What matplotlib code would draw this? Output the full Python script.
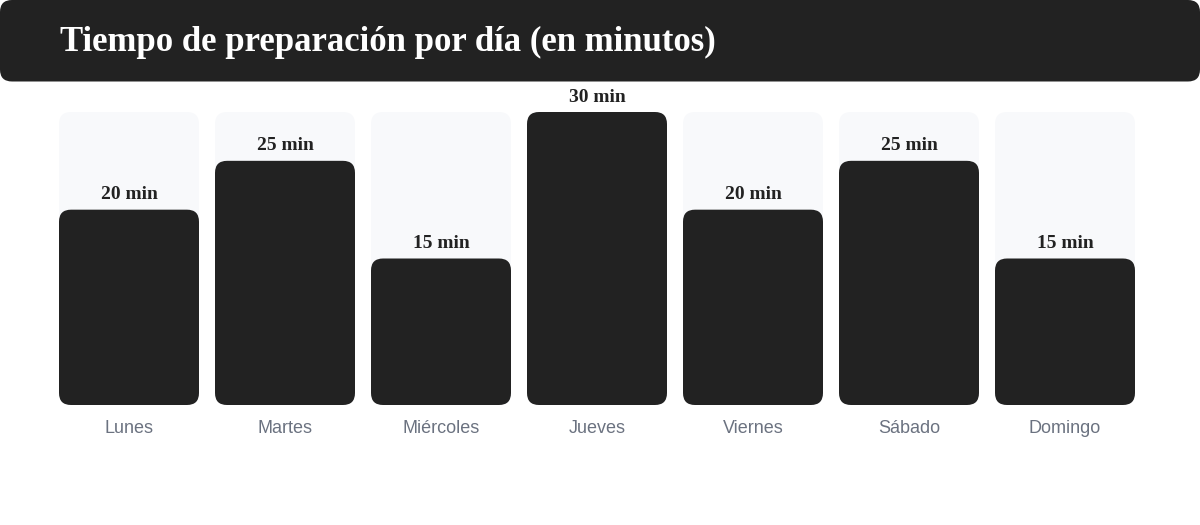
import matplotlib.pyplot as plt
from matplotlib.patches import FancyBboxPatch

days = ['Lunes', 'Martes', 'Miércoles', 'Jueves', 'Viernes', 'Sábado', 'Domingo']
minutes = [20, 25, 15, 30, 20, 25, 15]
title = 'Tiempo de preparación por día (en minutos)'

W, H = 1200, 525
fig = plt.figure(figsize=(W / 100, H / 100), dpi=100)
fig.patch.set_facecolor('white')

# title banner
tax = fig.add_axes([0, 1 - 82 / H, 1, 82 / H])
tax.set_xlim(0, W)
tax.set_ylim(82, 0)
tax.axis('off')
tax.add_patch(FancyBboxPatch((0, 0), W, 81.5, boxstyle='round,pad=0,rounding_size=12',
                             fc='#222222', ec='none'))
tax.text(60, 42, title, color='white', fontsize=25, fontweight='bold',
         family='Liberation Serif', ha='left', va='center')

# bars
bw = 140 / 156
ymax = max(minutes)
left, right, top, bottom = 59, 1135, 112, 405
ax = fig.add_axes([left / W, 1 - bottom / H, (right - left) / W, (bottom - top) / H])
ax.set_xlim(-bw / 2, len(days) - 1 + bw / 2)
ax.set_ylim(0, ymax)
ax.axis('off')

px_x = (right - left) / (len(days) - 1 + bw)
px_y = (bottom - top) / ymax
r = 12 / px_x
asp = px_x / px_y

bars = ax.bar(range(len(days)), minutes, bw, color='none')
for i, b in enumerate(bars):
    x0 = b.get_x()
    ax.add_patch(FancyBboxPatch((x0, 0), bw, ymax, boxstyle=f'round,pad=0,rounding_size={r}',
                                mutation_aspect=asp, fc='#f8f9fb', ec='none', zorder=1))
    ax.add_patch(FancyBboxPatch((x0, 0), bw, b.get_height(), boxstyle=f'round,pad=0,rounding_size={r}',
                                mutation_aspect=asp, fc='#222222', ec='none', zorder=2))
    ax.text(i, b.get_height() + 15 / px_y, f'{minutes[i]} min', ha='center', va='center',
            fontsize=14, fontweight='bold', family='Liberation Serif', color='#222222',
            clip_on=False, zorder=3)
    ax.text(i, -23.5 / px_y, days[i], ha='center', va='center', fontsize=13,
            family='Liberation Sans', color='#6b7280', clip_on=False)

fig.savefig('out.png', dpi=100)
